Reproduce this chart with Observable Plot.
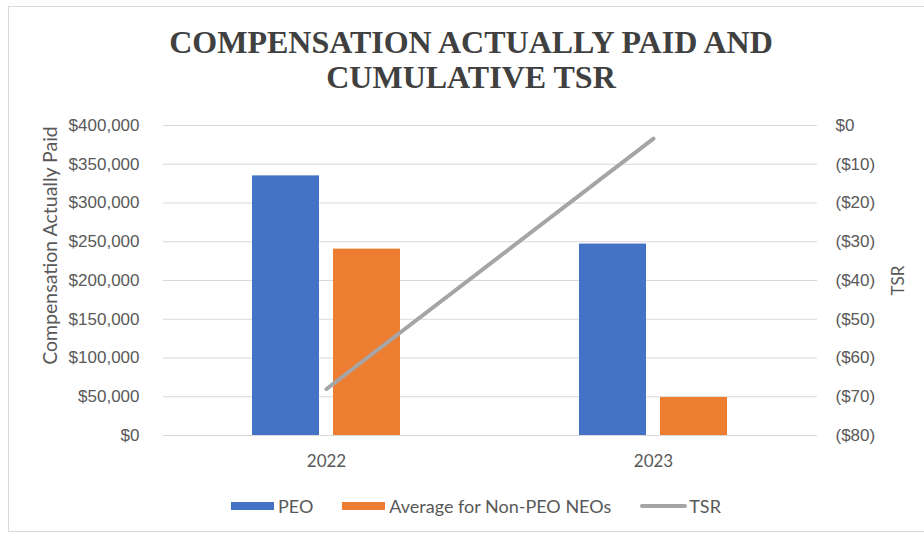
<!DOCTYPE html>
<html>
<head>
<meta charset="utf-8">
<script src="https://cdn.jsdelivr.net/npm/d3@7"></script>
<script src="https://cdn.jsdelivr.net/npm/@observablehq/plot@0.6"></script>
<style>
  html, body { margin: 0; padding: 0; background: #fff; }
  #wrap { position: relative; width: 924px; height: 538px; overflow: hidden; background: #fff; }
  #frame { position: absolute; left: 8px; top: 6px; width: 930px; height: 526px; border: 1px solid #d9d9d9; box-sizing: border-box; }
  #title { position: absolute; left: 9px; top: 25px; width: 924px; text-align: center;
    font-family: "Liberation Serif", "DejaVu Serif", serif; font-weight: bold; font-size: 32px; line-height: 35px; color: #404040; }
  #chart { position: absolute; left: 0; top: 110px; }
  #legend { position: absolute; top: 495px; left: 231px; height: 22px; display: flex; align-items: center;
    font-family: Lato, "Open Sans", sans-serif; font-size: 18px; color: #595959; white-space: nowrap; }
  .sw { display: inline-block; width: 43px; height: 8px; margin-right: 4px; }
  .ln { display: inline-block; width: 47px; height: 4px; margin-right: 2px; background: #A5A5A5; border-radius: 2px; }
  .item { display: flex; align-items: center; }
</style>
</head>
<body>
<div id="wrap">
  <div id="frame"></div>
  <div id="title">COMPENSATION ACTUALLY PAID AND<br>CUMULATIVE TSR</div>
  <div id="chart"></div>
  <div id="legend"></div>
</div>
<script>
// ---- data ----
const years = ["2022", "2023"];
const peoValues = [335000, 247000];
const nonPeoValues = [240500, 49000];
const tsrValues = [-68, -3.4];
const leftTicks = [0, 50000, 100000, 150000, 200000, 250000, 300000, 350000, 400000];
const rightTicks = [0, -10, -20, -30, -40, -50, -60, -70, -80];
const seriesNames = ["PEO", "Average for Non-PEO NEOs", "TSR"];
const colors = ["#4472C4", "#ED7D31", "#A5A5A5"];

// TSR axis (-80..0) mapped onto the left axis domain (0..400000)
const tsrToLeft = t => (t + 80) * 5000;
const leftToTsr = v => Math.round(v / 5000 - 80);

const peoRows = years.map((y, i) => ({year: y, value: peoValues[i]}));
const nonPeoRows = years.map((y, i) => ({year: y, value: nonPeoValues[i]}));
const tsrRows = years.map((y, i) => ({year: y, tsr: tsrValues[i]}));

const tickFont = "'Liberation Sans', Arial, sans-serif";

const chart = Plot.plot({
  width: 924,
  height: 370,
  marginTop: 15,
  marginBottom: 45,
  marginLeft: 163,
  marginRight: 107,
  style: {fontFamily: "Lato, 'Open Sans', sans-serif", fontSize: "17px", color: "#595959", background: "transparent", overflow: "visible"},
  x: {domain: years, paddingInner: 0.547, paddingOuter: 0.2735},
  y: {domain: [0, 400000]},
  marks: [
    Plot.gridY(leftTicks, {stroke: "#d9d9d9", strokeOpacity: 1, strokeWidth: 1}),
    Plot.axisY(leftTicks, {
      anchor: "left", tickSize: 0, tickPadding: 24, label: null,
      fontFamily: tickFont, fontSize: 17,
      tickFormat: d => "$" + d3.format(",")(d)
    }),
    Plot.axisY(rightTicks.map(tsrToLeft), {
      anchor: "right", tickSize: 0, tickPadding: 18, label: null,
      fontFamily: tickFont, fontSize: 17,
      tickFormat: v => { const t = leftToTsr(v); return t === 0 ? "$0" : "($" + Math.abs(t) + ")"; }
    }),
    Plot.axisX({tickSize: 0, tickPadding: 19, label: null, fontSize: 17}),
    Plot.barY(peoRows, {x: "year", y: "value", fill: colors[0], insetRight: 81}),
    Plot.barY(nonPeoRows, {x: "year", y: "value", fill: colors[1], insetLeft: 81}),
    Plot.lineY(tsrRows, {x: "year", y: d => tsrToLeft(d.tsr), stroke: colors[2], strokeWidth: 4, strokeLinecap: "round"}),
    Plot.text(["Compensation Actually Paid"], {frameAnchor: "left", textAnchor: "middle", dx: -113, dy: -35, rotate: -90, fontSize: 19.5, fill: "#595959"}),
    Plot.text(["TSR"], {frameAnchor: "right", textAnchor: "middle", dx: 81, rotate: -90, fontSize: 17, fill: "#595959"})
  ]
});
document.getElementById("chart").appendChild(chart);

// legend
const legend = document.getElementById("legend");
seriesNames.forEach((name, i) => {
  const item = document.createElement("div");
  item.className = "item";
  item.style.marginRight = i < 2 ? "29px" : "0";
  const sw = document.createElement("span");
  if (i < 2) { sw.className = "sw"; sw.style.background = colors[i]; }
  else { sw.className = "ln"; }
  item.appendChild(sw);
  item.appendChild(document.createTextNode(name));
  legend.appendChild(item);
});
</script>
</body>
</html>
